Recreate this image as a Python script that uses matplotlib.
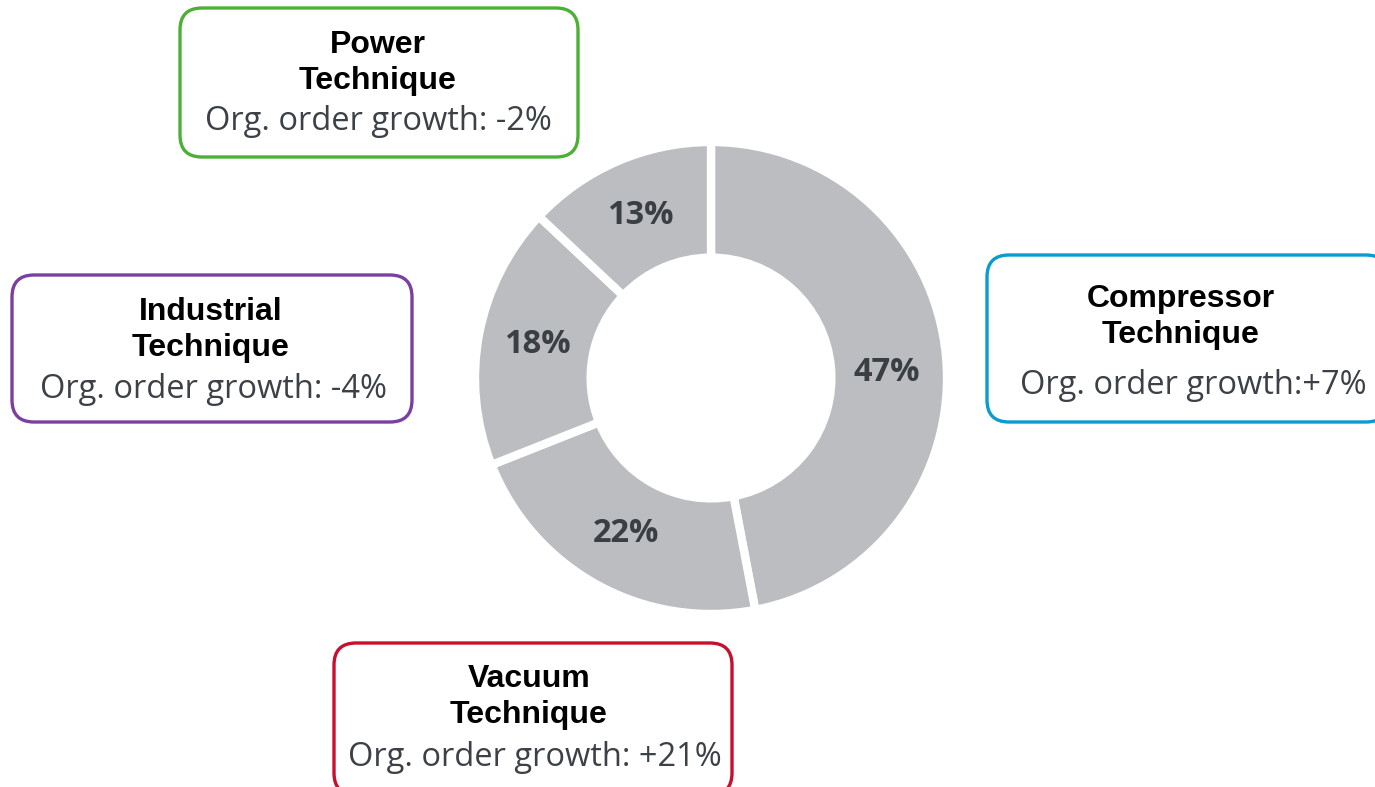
import matplotlib.pyplot as plt
from matplotlib.patches import FancyBboxPatch

W, H = 1375, 787

segments = ['Compressor\nTechnique', 'Vacuum\nTechnique', 'Industrial\nTechnique', 'Power\nTechnique']
shares = [47, 22, 18, 13]
growth = ['Org. order growth:+7%', 'Org. order growth: +21%',
          'Org. order growth: -4%', 'Org. order growth: -2%']

edge_colors = ['#0A9BD0', '#C8102E', '#7B3FA0', '#4CB034']
# box layout in pixels: left, top, right, bottom, title centre x, title y, growth centre x, growth y
boxes = [
    (987, 255, 1388, 422, 1181, 317, 1193, 386),
    (334, 643, 732, 795, 529, 697, 535, 758),
    (12, 275, 412, 422, 211, 330, 214, 389),
    (180, 8, 578, 157, 378, 63, 378, 122),
]

fig = plt.figure(figsize=(W / 100, H / 100), dpi=100)
ax = fig.add_axes([0, 0, 1, 1])
ax.set_xlim(0, W)
ax.set_ylim(0, H)
ax.set_aspect('equal')
ax.axis('off')

cx, cy, R = 711, H - 378, 236
wedges, texts, autotexts = ax.pie(
    shares, center=(cx, cy), radius=R, startangle=90, counterclock=False,
    colors=['#BCBDC0'] * 4, autopct='%d%%', pctdistance=0.75,
    wedgeprops=dict(width=R * 0.49, edgecolor='white', linewidth=6),
    textprops=dict(fontsize=23.5, fontweight='bold', color='#3A3F44', family='Open Sans'))
ax.set_xlim(0, W)
ax.set_ylim(0, H)
# the big slice's label sits a little lower in the original
autotexts[0].set_y(autotexts[0].get_position()[1] - 11)

for i, (l, t, r, b, tx, ty, gx, gy) in enumerate(boxes):
    rad = 22
    box = FancyBboxPatch((l + rad, H - b + rad), r - l - 2 * rad, b - t - 2 * rad,
                         boxstyle='round,pad=%d' % rad, facecolor='white',
                         edgecolor=edge_colors[i], linewidth=2.4)
    ax.add_patch(box)
    ax.text(tx, H - ty, segments[i], ha='center', va='center', fontsize=23,
            fontweight='bold', family='Liberation Sans', color='black', linespacing=1.27)
    ax.text(gx, H - gy, growth[i], ha='center', va='center', fontsize=23.5,
            family='Open Sans', color='#3C4147')

fig.savefig('out.png', dpi=100)
